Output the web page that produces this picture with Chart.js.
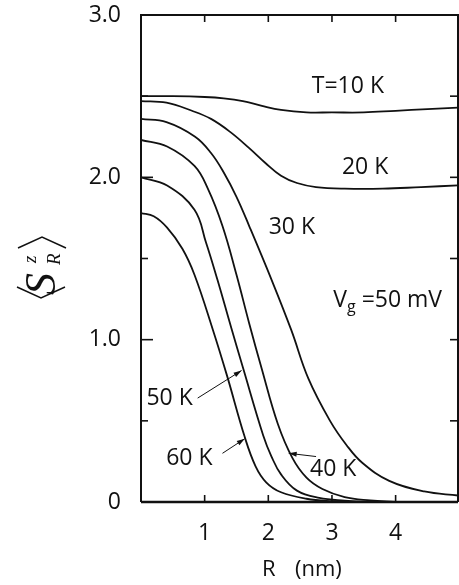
<!DOCTYPE html>
<html>
<head>
<meta charset="utf-8">
<script src="https://cdn.jsdelivr.net/npm/chart.js@4.4.1/dist/chart.umd.min.js"></script>
<style>
html,body{margin:0;padding:0;background:#fff;}
canvas{display:block;}
</style>
</head>
<body>
<canvas id="c" width="459" height="585"></canvas>
<script>
// ---- data ----
const seriesNames = ["10 K", "20 K", "30 K", "40 K", "50 K", "60 K"];
const r10 = [0, 0.5, 1.0, 1.3, 1.6, 1.9, 2.2, 2.6, 3.0, 3.5, 4.0, 4.5, 4.98];
const s10 = [2.50, 2.50, 2.495, 2.487, 2.47, 2.44, 2.415, 2.40, 2.40, 2.40, 2.41, 2.42, 2.43];
const r20 = [0, 0.4, 0.8, 1.1, 1.4, 1.7, 1.95, 2.2, 2.45, 2.75, 3.2, 3.8, 4.4, 4.98];
const s20 = [2.47, 2.46, 2.41, 2.36, 2.28, 2.18, 2.09, 2.01, 1.965, 1.94, 1.93, 1.93, 1.94, 1.95];
const r30 = [0, 0.4, 0.85, 1.1, 1.3, 1.5, 1.7, 2.05, 2.36, 2.63, 2.97, 3.23, 3.48, 3.9, 4.45, 4.98];
const s30 = [2.36, 2.34, 2.25, 2.15, 2.03, 1.88, 1.70, 1.37, 1.06, 0.76, 0.50, 0.35, 0.24, 0.13, 0.065, 0.04];
const r40 = [0, 0.41, 0.84, 1.05, 1.28, 1.50, 1.70, 1.89, 2.15, 2.38, 2.6, 2.85, 3.2, 3.6, 4.0];
const s40 = [2.23, 2.19, 2.07, 1.93, 1.70, 1.40, 1.10, 0.83, 0.48, 0.27, 0.15, 0.08, 0.03, 0.01, 0.0];
const r50 = [0, 0.41, 0.84, 1.02, 1.20, 1.42, 1.60, 1.92, 2.05, 2.2, 2.45, 2.8, 3.2, 3.6];
const s50 = [2.00, 1.95, 1.80, 1.60, 1.37, 1.07, 0.83, 0.41, 0.28, 0.17, 0.07, 0.025, 0.008, 0.0];
const r60 = [0, 0.2, 0.41, 0.65, 0.84, 1.13, 1.35, 1.63, 1.80, 1.97, 2.2, 2.6, 3.0, 3.4];
const s60 = [1.78, 1.76, 1.69, 1.56, 1.40, 1.06, 0.78, 0.40, 0.22, 0.12, 0.06, 0.02, 0.005, 0.0];
const xTickLabels = ["1", "2", "3", "4"];
const yTickLabels = ["0", "1.0", "2.0", "3.0"];

const rs = [r10, r20, r30, r40, r50, r60];
const ss = [s10, s20, s30, s40, s50, s60];

const FONT = "'Open Sans', 'Noto Sans', sans-serif";

const datasets = seriesNames.map((n, i) => ({
  label: n,
  data: rs[i].map((r, j) => ({x: r, y: ss[i][j]})),
  borderColor: '#111',
  borderWidth: 1.8,
  pointRadius: 0,
  fill: false,
  tension: 0.4
}));

function arrow(ctx, x1, y1, x2, y2) {
  ctx.beginPath();
  ctx.moveTo(x1, y1); ctx.lineTo(x2, y2);
  ctx.lineWidth = 1; ctx.stroke();
  const a = Math.atan2(y2 - y1, x2 - x1);
  const L = 8, W = 2.5;
  ctx.beginPath();
  ctx.moveTo(x2, y2);
  ctx.lineTo(x2 - L * Math.cos(a) + W * Math.sin(a), y2 - L * Math.sin(a) - W * Math.cos(a));
  ctx.lineTo(x2 - L * Math.cos(a) - W * Math.sin(a), y2 - L * Math.sin(a) + W * Math.cos(a));
  ctx.closePath(); ctx.fill();
}

const decor = {
  id: 'decor',
  afterDraw(chart) {
    const ctx = chart.ctx;
    const xs = chart.scales.x, ys = chart.scales.y;
    const a = chart.chartArea;
    const X = v => xs.getPixelForValue(v), Y = v => ys.getPixelForValue(v);
    ctx.save();
    ctx.strokeStyle = '#111'; ctx.fillStyle = '#111';
    // frame
    ctx.lineWidth = 2;
    ctx.beginPath();
    ctx.moveTo(a.left, a.bottom); ctx.lineTo(a.left, a.top); ctx.lineTo(a.right, a.top); ctx.lineTo(a.right, a.bottom);
    ctx.stroke();
    ctx.lineWidth = 2.5;
    ctx.beginPath(); ctx.moveTo(a.left, a.bottom); ctx.lineTo(a.right, a.bottom); ctx.stroke();
    // inward ticks
    ctx.lineWidth = 1.6;
    for (let v = 0.5; v < 3; v += 0.5) {
      const major = Math.abs(v - Math.round(v)) < 1e-6;
      const lenL = major ? 12 : 7;
      ctx.beginPath(); ctx.moveTo(a.left, Y(v)); ctx.lineTo(a.left + lenL, Y(v)); ctx.stroke();
      ctx.beginPath(); ctx.moveTo(a.right, Y(v)); ctx.lineTo(a.right - 8, Y(v)); ctx.stroke();
    }
    for (let v = 1; v <= 4; v++) {
      ctx.beginPath(); ctx.moveTo(X(v), a.bottom); ctx.lineTo(X(v), a.bottom - 7); ctx.stroke();
      ctx.beginPath(); ctx.moveTo(X(v), a.top); ctx.lineTo(X(v), a.top + 7); ctx.stroke();
    }
    // curve labels
    ctx.font = "23px " + FONT;
    ctx.textAlign = 'center'; ctx.textBaseline = 'middle';
    ctx.fillText("T=10 K", X(3.25), Y(2.56));
    ctx.fillText("20 K", X(3.52), Y(2.06));
    ctx.fillText("30 K", X(2.37), Y(1.69));
    ctx.fillText("50 K", X(0.45), Y(0.64));
    ctx.fillText("60 K", X(0.76), Y(0.27));
    ctx.fillText("40 K", X(3.02), Y(0.20));
    // Vg label
    ctx.textAlign = 'left'; ctx.textBaseline = 'alphabetic';
    let vx = X(3.02), vy = Y(1.20);
    ctx.fillText("V", vx, vy);
    vx += ctx.measureText("V").width;
    ctx.font = "16px " + FONT;
    ctx.fillText("g", vx, vy + 5);
    vx += ctx.measureText("g").width + 6;
    ctx.font = "23px " + FONT;
    ctx.fillText("=50 mV", vx, vy);
    // arrows
    arrow(ctx, X(0.89), Y(0.64), X(1.58), Y(0.81));
    arrow(ctx, X(1.28), Y(0.30), X(1.63), Y(0.39));
    arrow(ctx, X(2.75), Y(0.28), X(2.32), Y(0.30));
    // x title
    ctx.textAlign = 'left'; ctx.textBaseline = 'middle';
    ctx.font = "22px " + FONT;
    ctx.fillText("R", 262, 570);
    ctx.fillText("(nm)", 295, 570);
    // y title <S_R^z>, rotated
    ctx.translate(42, 267);
    ctx.rotate(-Math.PI / 2);
    ctx.lineWidth = 1.5;
    ctx.beginPath(); ctx.moveTo(-20, -25); ctx.lineTo(-31, -1); ctx.lineTo(-20, 23); ctx.stroke();
    ctx.beginPath(); ctx.moveTo(19, -24); ctx.lineTo(30, 0); ctx.lineTo(19, 24); ctx.stroke();
    ctx.textAlign = 'left'; ctx.textBaseline = 'alphabetic';
    ctx.font = "italic 44px 'Liberation Serif', 'DejaVu Serif', serif";
    ctx.fillText("S", -28, 13);
    ctx.font = "italic 19px 'Liberation Serif', 'DejaVu Serif', serif";
    ctx.fillText("z", 4, -6);
    ctx.fillText("R", 2, 18);
    ctx.restore();
  }
};

new Chart(document.getElementById('c'), {
  type: 'line',
  data: { datasets },
  options: {
    responsive: false,
    animation: false,
    devicePixelRatio: 1,
    layout: { padding: { left: 0, right: 1, top: 15, bottom: 0 } },
    plugins: { legend: { display: false }, tooltip: { enabled: false } },
    scales: {
      x: {
        type: 'linear', min: 0, max: 4.98,
        grid: { display: false }, border: { display: false },
        afterFit: s => { s.height = 83; s.paddingLeft = 0; s.paddingRight = 0; },
        ticks: {
          stepSize: 1, autoSkip: false, maxRotation: 0, padding: 10, includeBounds: false,
          color: '#111', font: { size: 23, family: FONT },
          callback: v => { const i = Math.round(v); return (Math.abs(v - i) < 1e-6 && i >= 1 && i <= 4) ? xTickLabels[i - 1] : ''; }
        }
      },
      y: {
        type: 'linear', min: 0, max: 3,
        grid: { display: false }, border: { display: false },
        afterFit: s => { s.width = 141; s.paddingTop = 0; s.paddingBottom = 0; },
        ticks: {
          stepSize: 0.5, autoSkip: false, padding: 12,
          color: '#111', font: { size: 23, family: FONT },
          callback: v => { const i = Math.round(v); return (Math.abs(v - i) < 1e-6) ? yTickLabels[i] : ''; }
        }
      }
    }
  },
  plugins: [decor]
});
</script>
</body>
</html>
